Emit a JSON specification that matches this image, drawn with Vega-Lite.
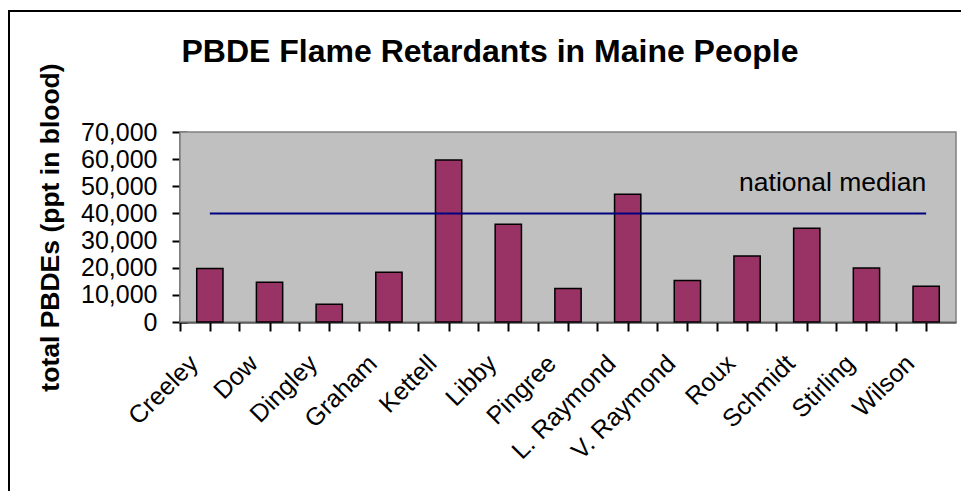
{
  "$schema": "https://vega.github.io/schema/vega-lite/v6.json",
  "width": 952,
  "height": 480,
  "autosize": "none",
  "padding": {"left": 9, "top": 11, "right": 0, "bottom": 0},
  "background": "white",
  "config": {
    "view": {"stroke": "black", "strokeWidth": 2, "strokeDash": [952, 1432, 480], "fill": "white"},
    "font": "Liberation Sans",
    "axis": {"labelFont": "Liberation Sans", "titleFont": "Liberation Sans", "labelColor": "black", "titleColor": "black", "tickColor": "black", "domainColor": "black", "grid": false, "zindex": 1}
  },
  "title": {"text": "PBDE Flame Retardants in Maine People", "fontSize": 32, "fontWeight": "bold", "font": "Liberation Sans", "color": "black", "anchor": "middle", "frame": "group", "baseline": "alphabetic", "offset": -83, "dx": 5},
  "data": {"values": [
    {"name": "Creeley", "ppt": 19700, "median": 40000},
    {"name": "Dow", "ppt": 14600, "median": 40000},
    {"name": "Dingley", "ppt": 6500, "median": 40000},
    {"name": "Graham", "ppt": 18300, "median": 40000},
    {"name": "Kettell", "ppt": 59700, "median": 40000},
    {"name": "Libby", "ppt": 36000, "median": 40000},
    {"name": "Pingree", "ppt": 12300, "median": 40000},
    {"name": "L. Raymond", "ppt": 47100, "median": 40000},
    {"name": "V. Raymond", "ppt": 15300, "median": 40000},
    {"name": "Roux", "ppt": 24300, "median": 40000},
    {"name": "Schmidt", "ppt": 34500, "median": 40000},
    {"name": "Stirling", "ppt": 19900, "median": 40000},
    {"name": "Wilson", "ppt": 13200, "median": 40000}
  ]},
  "layer": [
    {
      "data": {"values": [{}]},
      "mark": {"type": "rect", "fill": "#C0C0C0", "stroke": "#808080", "strokeWidth": 1.5},
      "encoding": {
        "x": {"datum": 0, "type": "quantitative", "scale": {"domain": [0, 1], "range": [171, 947], "nice": false, "zero": false},
          "axis": {"orient": "bottom", "offset": -169, "domain": true, "domainWidth": 2, "ticks": false, "labels": false, "title": null}},
        "x2": {"datum": 1},
        "y": {"datum": 0, "type": "quantitative", "scale": {"domain": [0, 70000], "range": [311, 121], "nice": false},
          "axis": {"orient": "left", "offset": -171, "domain": true, "domainWidth": 2, "ticks": false, "labels": false, "title": null}},
        "y2": {"datum": 70000}
      }
    },
    {
      "mark": {"type": "bar", "fill": "#993366", "stroke": "black", "strokeWidth": 1.5, "width": {"band": 0.44}},
      "encoding": {
        "x": {"field": "name", "type": "nominal", "sort": null,
          "scale": {"domain": ["Creeley", "Dow", "Dingley", "Graham", "Kettell", "Libby", "Pingree", "L. Raymond", "V. Raymond", "Roux", "Schmidt", "Stirling", "Wilson"], "range": [171, 947], "paddingInner": 0, "paddingOuter": 0},
          "axis": {"orient": "bottom", "offset": -175, "bandPosition": 0, "tickSize": 15, "tickWidth": 2, "domain": false, "labelAngle": -45, "labelAlign": "right", "labelBaseline": "middle", "labelPadding": 28, "labelOffset": -16, "labelFontSize": 25, "labelOverlap": false, "labelBound": false, "title": null}},
        "y": {"field": "ppt", "type": "quantitative",
          "axis": {"orient": "left", "offset": -178, "tickSize": 15, "tickWidth": 2, "domain": false, "values": [0, 10000, 20000, 30000, 40000, 50000, 60000, 70000], "labelExpr": "format(datum.value, ',')", "labelFontSize": 25, "labelPadding": 15, "title": "total PBDEs (ppt in blood)", "titleFontSize": 26.5, "titleFontWeight": "bold", "titlePadding": 16}}
      }
    },
    {
      "mark": {"type": "line", "color": "#000080", "strokeWidth": 2},
      "encoding": {
        "x": {"field": "name", "type": "nominal", "sort": null,
          "scale": {"domain": ["Creeley", "Dow", "Dingley", "Graham", "Kettell", "Libby", "Pingree", "L. Raymond", "V. Raymond", "Roux", "Schmidt", "Stirling", "Wilson"], "range": [171, 947], "paddingInner": 0, "paddingOuter": 0},
          "axis": {"orient": "bottom", "offset": -175, "bandPosition": 1, "tickSize": 15, "tickWidth": 2, "domain": false, "labels": false, "title": null}},
        "y": {"field": "median", "type": "quantitative", "axis": null}
      }
    },
    {
      "transform": [{"filter": "datum.name === 'Wilson'"}],
      "mark": {"type": "text", "text": "national median", "align": "right", "baseline": "alphabetic", "dy": -22, "fontSize": 26.5, "font": "Liberation Sans", "color": "black"},
      "encoding": {
        "x": {"field": "name", "type": "nominal", "sort": null,
          "scale": {"domain": ["Creeley", "Dow", "Dingley", "Graham", "Kettell", "Libby", "Pingree", "L. Raymond", "V. Raymond", "Roux", "Schmidt", "Stirling", "Wilson"], "range": [171, 947], "paddingInner": 0, "paddingOuter": 0},
          "axis": null},
        "y": {"field": "median", "type": "quantitative", "axis": null}
      }
    }
  ],
  "resolve": {"scale": {"x": "independent"}, "axis": {"x": "independent", "y": "independent"}}
}
